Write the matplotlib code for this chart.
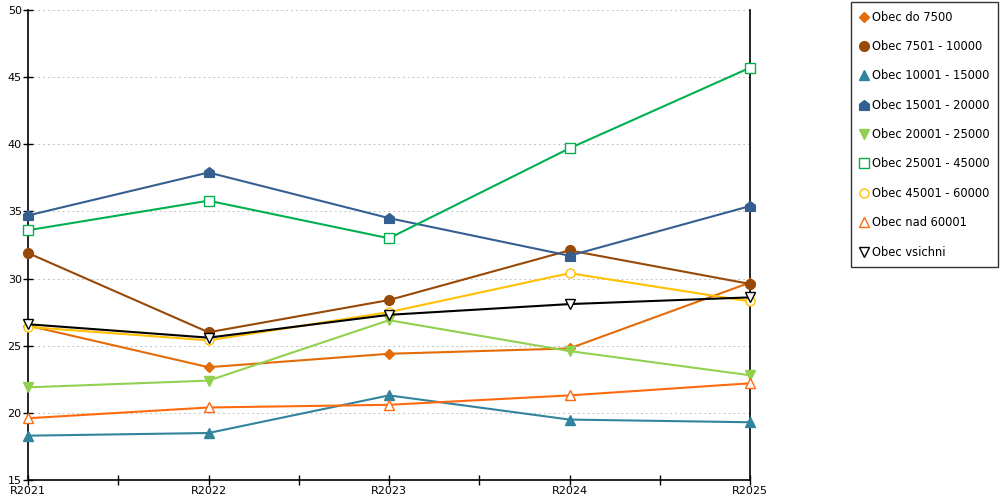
import numpy as np
import matplotlib.pyplot as plt
from matplotlib.path import Path
from matplotlib.ticker import MultipleLocator

years = ["R2021", "R2022", "R2023", "R2024", "R2025"]

do_7500 = [26.5, 23.4, 24.4, 24.8, 29.7]
obec_7501_10000 = [31.9, 26.0, 28.4, 32.1, 29.6]
obec_10001_15000 = [18.3, 18.5, 21.3, 19.5, 19.3]
obec_15001_20000 = [34.7, 37.9, 34.5, 31.7, 35.4]
obec_20001_25000 = [21.9, 22.4, 26.9, 24.6, 22.8]
obec_25001_45000 = [33.6, 35.8, 33.0, 39.7, 45.7]
obec_45001_60000 = [26.4, 25.4, 27.5, 30.4, 28.3]
nad_60001 = [19.6, 20.4, 20.6, 21.3, 22.2]
vsichni = [26.6, 25.6, 27.3, 28.1, 28.6]

# little "house" shaped marker
house = Path([(-1, -1), (1, -1), (1, 0.25), (0, 1), (-1, 0.25), (-1, -1)],
             [Path.MOVETO, Path.LINETO, Path.LINETO, Path.LINETO, Path.LINETO, Path.CLOSEPOLY])

series = [
    ("Obec do 7500", do_7500, "#e36c09", "D", True, 5.5),
    ("Obec 7501 - 10000", obec_7501_10000, "#984807", "o", True, 7),
    ("Obec 10001 - 15000", obec_10001_15000, "#31849b", "^", True, 7.5),
    ("Obec 15001 - 20000", obec_15001_20000, "#365f91", house, True, 7),
    ("Obec 20001 - 25000", obec_20001_25000, "#92d050", "v", True, 7.5),
    ("Obec 25001 - 45000", obec_25001_45000, "#00b050", "s", False, 6.5),
    ("Obec 45001 - 60000", obec_45001_60000, "#ffc000", "o", False, 6.5),
    ("Obec nad 60001", nad_60001, "#ff6a10", "^", False, 7.5),
    ("Obec vsichni", vsichni, "#000000", "v", False, 7.5),
]

fig = plt.figure(figsize=(10, 5), dpi=100)
ax = fig.add_axes([0.028, 0.04, 0.722, 0.94])

x = np.arange(len(years))
for label, vals, col, mk, filled, ms in series:
    ax.plot(x, vals, color=col, lw=1.5, marker=mk, markersize=ms,
            markerfacecolor=col if filled else "white",
            markeredgecolor=col, markeredgewidth=1.0,
            label=label, clip_on=False, zorder=3)

ax.set_xlim(0, 4)
ax.set_ylim(15, 50)
ax.set_xticks(x)
ax.set_xticklabels(years)
ax.xaxis.set_minor_locator(MultipleLocator(0.5))
ax.yaxis.set_major_locator(MultipleLocator(5))
ax.tick_params(axis="both", direction="inout", length=7, width=1, labelsize=8, colors="black")
ax.tick_params(axis="x", which="minor", direction="inout", length=7, width=1)
ax.tick_params(axis="x", pad=1)
ax.tick_params(axis="y", pad=1)
ax.grid(axis="y", color="#c4c4c4", linestyle=(0, (2, 3)), lw=0.7)
ax.spines["top"].set_visible(False)
for s in ["left", "bottom", "right"]:
    ax.spines[s].set_linewidth(1.2)
    ax.spines[s].set_color("black")

leg = fig.legend(loc="upper left", bbox_to_anchor=(0.851, 0.996), frameon=True,
                 fancybox=False, edgecolor="black", fontsize=8.3, labelspacing=1.42,
                 handlelength=0.7, handletextpad=0.35, borderpad=0.75, borderaxespad=0)
leg.get_frame().set_linewidth(1.0)
for h in leg.get_lines():
    h.set_linestyle("none")

fig.savefig("out.png", dpi=100)
